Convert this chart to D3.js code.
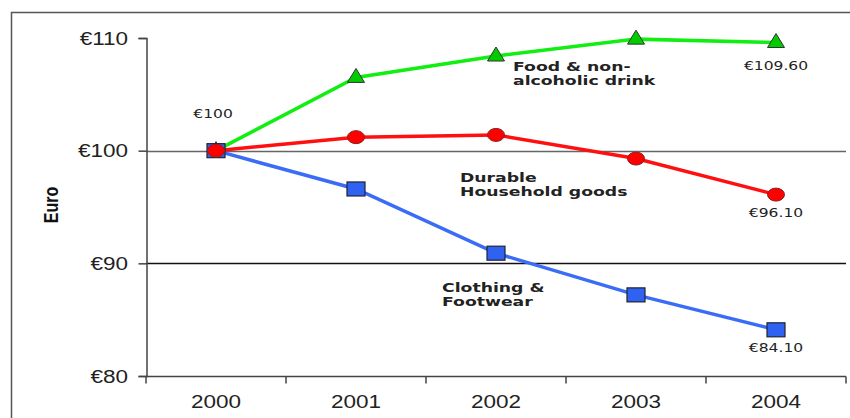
<!DOCTYPE html>
<html>
<head>
<meta charset="utf-8">
<script src="https://cdn.jsdelivr.net/npm/d3@7"></script>
<style>
  body { margin: 0; background: #fff; }
  svg { display: block; }
</style>
</head>
<body>
<svg id="chart" width="850" height="418"></svg>
<script>
// Price of a €100 basket, 2000 = €100
const years = ["2000", "2001", "2002", "2003", "2004"];
const food = [100, 106.5, 108.4, 109.9, 109.6];
const durable = [100, 101.2, 101.4, 99.3, 96.1];
const clothing = [100, 96.6, 90.9, 87.2, 84.1];
const yTicks = [80, 90, 100, 110];

const svg = d3.select("#chart");
const SANS = "Liberation Sans, Arial, sans-serif";
const VERD = "DejaVu Sans, Verdana, sans-serif";

// text placed at (px,py), widened horizontally by sx
function wideText(parent, px, py, sx, opts) {
  const t = parent.append("text")
    .attr("transform", `translate(${px},${py}) scale(${sx},1)`)
    .attr("text-anchor", opts.anchor || "middle")
    .attr("font-family", opts.family)
    .attr("font-size", opts.size)
    .attr("font-weight", opts.weight || "normal")
    .attr("fill", opts.fill || "#222");
  const lines = Array.isArray(opts.text) ? opts.text : [opts.text];
  if (lines.length === 1) t.text(lines[0]);
  else lines.forEach((l, i) => t.append("tspan").attr("x", 0).attr("y", i * opts.lh).text(l));
  return t;
}

// outer frame
svg.append("path")
  .attr("d", "M11.5,418 L11.5,12.5 L850,12.5")
  .attr("fill", "none").attr("stroke", "#555").attr("stroke-width", 1.5);

const x = d3.scaleBand().domain(years).range([146, 846]);
const y = d3.scaleLinear().domain([80, 110]).range([376, 38]);
const cx = d => x(d) + x.bandwidth() / 2;

// horizontal gridlines
svg.append("g").selectAll("line").data([90, 100]).join("line")
  .attr("x1", 146).attr("x2", 846)
  .attr("y1", d => Math.round(y(d)) + 0.5).attr("y2", d => Math.round(y(d)) + 0.5)
  .attr("stroke", d => d === 100 ? "#666" : "#111").attr("stroke-width", 1.3);

// y axis
const yAxis = svg.append("g").attr("transform", "translate(146.5,0)")
  .call(d3.axisLeft(y).tickValues(yTicks).tickFormat("").tickSize(8));
yAxis.select(".domain").attr("stroke", "#444").attr("stroke-width", 1.5);
yAxis.selectAll(".tick line").attr("stroke", "#444").attr("stroke-width", 1.5);
yTicks.forEach(v => wideText(svg, 128, y(v) + 6.5, 1.25,
  { text: "€" + v, anchor: "end", family: SANS, size: 18 }));

// x axis with ticks at category boundaries
const xAxis = svg.append("g").attr("transform", "translate(0,376.5)");
xAxis.append("line").attr("x1", 146).attr("x2", 846).attr("stroke", "#444").attr("stroke-width", 1.5);
const bounds = years.map(d => x(d)).concat([x.range()[1]]);
xAxis.selectAll("line.tk").data(bounds).join("line").attr("class", "tk")
  .attr("x1", d => d).attr("x2", d => d).attr("y1", 0).attr("y2", 7)
  .attr("stroke", "#444").attr("stroke-width", 1.5);
years.forEach(yr => wideText(svg, cx(yr), 408, 1.25,
  { text: yr, family: SANS, size: 18 }));

// y axis title (rotated; glyph height widened to match the other text)
svg.append("text").attr("transform", "translate(58,205) rotate(-90) scale(1,1.3)")
  .attr("text-anchor", "middle").attr("font-family", SANS)
  .attr("font-weight", "bold").attr("font-size", 16).attr("fill", "#111").text("Euro");

const line = vals => d3.line().x((d, i) => cx(years[i])).y(d => y(d))(vals);

const series = [
  { vals: food, color: "#11ee11", fill: "#00cc00", shape: "tri" },
  { vals: clothing, color: "#3b6cf5", fill: "#2f62f0", shape: "sq" },
  { vals: durable, color: "#ff1010", fill: "#ff0000", shape: "circ" }
];

series.forEach(s => {
  svg.append("path").attr("d", line(s.vals)).attr("fill", "none")
    .attr("stroke", s.color).attr("stroke-width", 3.5);
});

series.forEach(s => {
  const g = svg.append("g");
  s.vals.forEach((v, i) => {
    const px = cx(years[i]), py = y(v);
    if (s.shape === "tri") {
      g.append("path").attr("d", `M${px},${py - 9} L${px + 8.5},${py + 5} L${px - 8.5},${py + 5} Z`)
        .attr("fill", s.fill).attr("stroke", "#333").attr("stroke-width", 1);
    } else if (s.shape === "sq") {
      g.append("rect").attr("x", px - 9).attr("y", py - 7).attr("width", 18).attr("height", 14)
        .attr("fill", s.fill).attr("stroke", "#223").attr("stroke-width", 1.2);
    } else {
      g.append("ellipse").attr("cx", px).attr("cy", py).attr("rx", 8.5).attr("ry", 6.5)
        .attr("fill", s.fill).attr("stroke", "#822").attr("stroke-width", 1);
    }
  });
});

// value annotations
const small = (t, px, py) => wideText(svg, px, py, 1.35, { text: t, family: VERD, size: 11.5 });
small("€100", 213, 118);
small("€" + food[4].toFixed(2), cx("2004"), 70);
small("€" + durable[4].toFixed(2), cx("2004"), 217);
small("€" + clothing[4].toFixed(2), cx("2004"), 352);

// series names
const label = (lines, px, py) => wideText(svg, px, py, 1.38,
  { text: lines, anchor: "start", family: VERD, size: 12.5, weight: "bold", lh: 14.5 });
label(["Food & non-", "alcoholic drink"], 513, 71);
label(["Durable", "Household goods"], 460, 182);
label(["Clothing &", "Footwear"], 442, 292);
</script>
</body>
</html>
